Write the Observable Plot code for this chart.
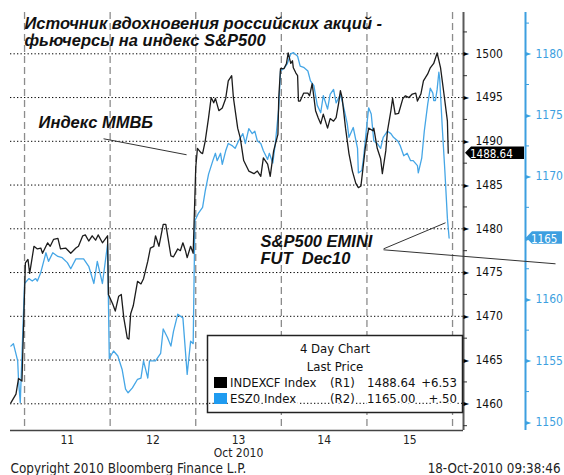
<!DOCTYPE html>
<html><head><meta charset="utf-8">
<script src="https://cdn.jsdelivr.net/npm/d3@7"></script>
<script src="https://cdn.jsdelivr.net/npm/@observablehq/plot@0.6"></script>
<style>
html,body{margin:0;padding:0;background:#fff;}
#chart{width:564px;height:475px;}
</style></head>
<body><div id="chart"></div>
<script>
// ---------- data ----------
const titleLines = ["Источник вдохновения российских акций -", "фьючерсы на индекс S&P500"];
const dayLabels = ["11", "12", "13", "14", "15"];
const dayCenters = [11.5, 12.5, 13.5, 14.5, 15.5];
const dayBounds = [11, 12, 13, 14, 15, 16];
const monthLabel = "Oct 2010";
const r1Ticks = [1460, 1465, 1470, 1475, 1480, 1485, 1490, 1495, 1500];
const r1Minor = [1457.5, 1462.5, 1467.5, 1472.5, 1477.5, 1482.5, 1487.5, 1492.5, 1497.5, 1502.5];
const r2Ticks = [1150, 1155, 1160, 1165, 1170, 1175, 1180];
const r2Minor = [1152.5, 1157.5, 1162.5, 1167.5, 1172.5, 1177.5, 1182.5];

// INDEXCF (MICEX index), right axis R1 — time in fractional October days
const micexTime = [10.84,10.90,10.93,10.97,11.01,11.04,11.06,11.11,11.15,11.19,11.21,11.27,11.30,11.34,11.39,11.42,11.48,11.54,11.60,11.63,11.68,11.71,11.75,11.79,11.83,11.86,11.91,11.97,
  11.98,12.03,12.06,12.10,12.13,12.16,12.20,12.22,12.24,12.27,12.32,12.36,12.39,12.44,12.47,12.51,12.53,12.57,12.62,12.65,12.71,12.74,12.79,12.82,12.85,12.88,12.90,12.94,12.97,
  13.00,13.02,13.06,13.08,13.11,13.15,13.18,13.21,13.23,13.27,13.31,13.35,13.38,13.42,13.44,13.49,13.52,13.56,13.62,13.68,13.72,13.76,13.79,13.84,13.87,13.91,13.96,13.97,13.99,
  14.03,14.06,14.08,14.11,14.13,14.14,14.17,14.19,14.20,14.22,14.26,14.31,14.33,14.36,14.40,14.43,14.46,14.49,14.54,14.57,14.61,14.64,14.67,14.69,14.71,14.75,14.79,14.83,14.87,14.90,14.93,14.95,14.98,
  15.02,15.07,15.08,15.12,15.16,15.18,15.22,15.24,15.28,15.30,15.33,15.37,15.42,15.45,15.49,15.53,15.57,15.59,15.63,15.66,15.71,15.74,15.78,15.82,15.86,15.90,15.94,15.95];
const micexPrice = [1460.1,1461.1,1462.9,1462.6,1476.1,1476.5,1474.9,1478.0,1477.7,1477.8,1477.2,1478.4,1478.0,1478.8,1478.9,1477.7,1477.8,1477.2,1477.8,1478.0,1479.2,1479.3,1478.6,1479.2,1478.7,1479.3,1478.4,1479.2,
  1472.5,1471.4,1470.6,1472.3,1472.5,1469.8,1467.5,1467.4,1470.3,1471.2,1474.0,1473.7,1474.3,1476.3,1477.8,1478.0,1479.2,1478.0,1480.5,1480.5,1476.9,1476.8,1477.7,1477.5,1478.4,1477.5,1476.7,1478.0,1477.2,
  1487.0,1489.2,1488.7,1488.6,1490.0,1492.7,1495.0,1494.4,1494.9,1493.5,1493.8,1494.9,1496.9,1497.5,1495.0,1491.5,1490.4,1487.8,1486.6,1486.3,1486.6,1486.0,1488.1,1487.4,1486.0,1488.9,1490.8,1495.0,1498.3,
  1498.3,1498.9,1500.1,1498.9,1499.2,1498.4,1497.8,1497.5,1494.6,1494.6,1495.5,1495.5,1495.2,1496.6,1493.5,1492.7,1492.0,1493.1,1491.5,1492.6,1492.3,1492.7,1494.4,1495.8,1495.0,1491.5,1488.6,1486.6,1485.2,1484.7,1484.9,1486.6,1489.2,
  1491.5,1491.2,1491.5,1489.2,1488.0,1486.3,1488.9,1491.2,1493.5,1494.9,1493.1,1493.2,1494.9,1495.2,1495.0,1495.4,1495.5,1494.6,1495.4,1496.9,1497.7,1498.4,1498.9,1500.1,1498.4,1495.4,1492.3,1488.64];

// ESZ0 (S&P500 E-mini Dec10), right axis R2
const esz0Time = [10.84,10.87,10.92,10.93,10.95,10.98,11.00,11.05,11.09,11.13,11.15,11.19,11.25,11.28,11.33,11.39,11.44,11.50,11.54,11.60,11.69,11.75,11.81,11.85,11.91,11.97,
  11.99,12.04,12.09,12.14,12.18,12.21,12.26,12.32,12.36,12.39,12.44,12.46,12.53,12.59,12.62,12.67,12.71,12.74,12.79,12.85,12.90,12.94,12.97,
  12.99,13.03,13.08,13.11,13.15,13.20,13.23,13.25,13.29,13.31,13.35,13.38,13.43,13.46,13.50,13.55,13.58,13.62,13.66,13.69,13.72,13.76,13.79,13.84,13.86,13.90,13.93,13.97,13.99,
  14.03,14.07,14.11,14.14,14.19,14.22,14.26,14.31,14.34,14.38,14.42,14.46,14.49,14.54,14.57,14.61,14.64,14.69,14.73,14.77,14.79,14.84,14.89,14.90,14.94,14.96,
  15.00,15.02,15.05,15.08,15.12,15.16,15.19,15.24,15.28,15.31,15.36,15.39,15.43,15.47,15.51,15.54,15.59,15.60,15.64,15.67,15.71,15.74,15.77,15.78,15.80,15.82,15.84,15.85,15.88,15.91,15.94,15.96];
const esz0Price = [1156.2,1156.4,1155.0,1153.4,1151.6,1157.4,1161.3,1161.7,1161.5,1161.7,1161.5,1162.2,1163.8,1163.1,1163.8,1163.5,1163.4,1163.0,1162.5,1163.3,1163.3,1162.7,1161.3,1163.1,1161.3,1164.5,
  1155.2,1155.8,1155.4,1154.3,1152.7,1152.4,1152.8,1153.5,1153.6,1155.0,1153.6,1155.0,1155.0,1155.6,1157.6,1156.9,1156.2,1157.4,1158.8,1158.5,1153.9,1156.6,1156.4,
  1166.4,1167.0,1167.5,1168.8,1170.2,1171.3,1171.9,1171.3,1171.9,1171.0,1172.1,1172.7,1172.5,1172.3,1172.9,1173.5,1172.7,1173.9,1173.5,1173.7,1172.9,1172.7,1172.1,1171.4,1171.9,1171.1,1172.7,1175.6,1178.6,
  1178.8,1179.2,1180.0,1180.1,1179.8,1179.0,1178.9,1178.6,1177.8,1177.4,1175.8,1175.2,1176.6,1175.5,1176.7,1177.1,1176.0,1176.7,1175.6,1174.3,1173.2,1174.0,1172.3,1170.3,1170.5,1171.5,
  1174.3,1175.6,1175.1,1172.9,1172.7,1172.3,1173.2,1173.7,1173.5,1173.2,1172.9,1172.5,1171.7,1171.9,1171.3,1171.3,1170.9,1170.3,1171.5,1173.7,1175.9,1177.2,1176.8,1176.2,1176.2,1177.1,1178.5,1178.0,1174.0,1170.5,1166.6,1165.0];

// legend
const legendHeader = ["4 Day Chart", "Last Price"];
const legendNames = ["INDEXCF Index", "ESZ0 Index"];
const legendAxes = ["(R1)", "(R2)"];
const legendLast = ["1488.64", "1165.00"];
const legendChange = ["+6.53", "+.50"];
const lastValues = [1488.64, 1165];
const lastLabels = ["1488.64", "1165"];

// annotations (anchored in data units: day, R1 value)
const annotTexts = ["Индекс ММВБ", "S&P500 EMINI", "FUT\u00a0 Dec10"];
const annotT = [11.164, 13.757, 13.757];
const annotV = [1491.5, 1477.9, 1476.0];
const linkT1 = [11.923, 15.194, 15.194];
const linkV1 = [1490.29, 1477.71, 1477.6];
const linkT2 = [12.893, 15.918, 17.203];
const linkV2 = [1488.46, 1480.69, 1476.0];

const copyright = "Copyright 2010 Bloomberg Finance L.P.";
const stamp = "18-Oct-2010 09:38:46";

// ---------- layout ----------
const W = 564, H = 475, mL = 10, mR = 101, mT = 12, mB = 45;
const xDomain = [10.836, 16.128];
const yDomain = [1456.95, 1504.72];
const toR1 = d3.scaleLinear([1150, 1180], [1457.89, 1500]);
const pxToDays = (xDomain[1] - xDomain[0]) / (W - mL - mR);
const blueOff = 62;
const BLUE = "#45a6e6", BLUEAX = "#3d9fe0";
const font = "'DejaVu Sans Condensed', 'DejaVu Sans', sans-serif";
const bold = "'Liberation Sans', Arial, sans-serif";
const boldSize = 16.5;

const micex = micexTime.map((t, i) => ({t, v: micexPrice[i]}));
const esz0 = esz0Time.map((t, i) => ({t, v: esz0Price[i]}));
const annots = annotTexts.map((s, i) => ({s, t: annotT[i], v: annotV[i]}));
const links = linkT1.map((t1, i) => ({t1, v1: linkV1[i], t2: linkT2[i], v2: linkV2[i]}));
// the R2 tick label at the last price is hidden under its price tag, as in the reference
const r2Labels = r2Ticks.filter(d => d !== lastValues[1]);

const plot = Plot.plot({
  width: W, height: H,
  marginLeft: mL, marginRight: mR, marginTop: mT, marginBottom: mB,
  x: {domain: xDomain, axis: null},
  y: {domain: yDomain, axis: null},
  style: {fontFamily: font, background: "#fff", overflow: "visible"},
  marks: [
    Plot.ruleY(r1Ticks, {stroke: "#000", strokeDasharray: "1.3,2.2", strokeWidth: 1}),
    Plot.ruleX(dayBounds, {stroke: "#8c8c8c", strokeDasharray: "7,4", strokeWidth: 1.3}),
    Plot.ruleY([yDomain[0]], {stroke: "#444", strokeWidth: 1.3}),
    Plot.line(esz0, {x: "t", y: d => toR1(d.v), stroke: BLUE, strokeWidth: 1.3}),
    Plot.line(micex, {x: "t", y: "v", stroke: "#1c1c1c", strokeWidth: 1.3}),
    // R1 axis
    Plot.ruleX([xDomain[1]], {stroke: "#5a5a5a", strokeWidth: 2}),
    Plot.ruleY(r1Minor, {x1: xDomain[1], x2: xDomain[1] + 4 * pxToDays, stroke: "#333", strokeWidth: 1}),
    Plot.text(r1Ticks, {y: d => d, frameAnchor: "right", text: () => "►", textAnchor: "start", fontSize: 8, dx: 0, fill: "#000"}),
    Plot.text(r1Ticks, {y: d => d, frameAnchor: "right", text: d => String(d), textAnchor: "start", dx: 12, fontSize: 12, fill: "#111"}),
    // R2 axis
    Plot.ruleX([xDomain[1]], {dx: blueOff, stroke: BLUEAX, strokeWidth: 2}),
    Plot.ruleY(r2Minor.map(toR1), {x1: xDomain[1], x2: xDomain[1] + 4 * pxToDays, dx: blueOff, stroke: BLUEAX, strokeWidth: 1}),
    Plot.text(r2Ticks, {y: d => toR1(d), frameAnchor: "right", text: () => "►", textAnchor: "start", fontSize: 8, dx: blueOff, fill: BLUEAX}),
    Plot.text(r2Labels, {y: d => toR1(d), frameAnchor: "right", text: d => String(d), textAnchor: "start", dx: blueOff + 10, fontSize: 12, fill: BLUEAX}),
    // x labels
    Plot.text(dayLabels, {x: (d, i) => dayCenters[i], frameAnchor: "bottom", text: d => d, lineAnchor: "bottom", dy: 13, fontSize: 12, fill: "#222"}),
    Plot.text([monthLabel], {x: () => dayCenters[2], frameAnchor: "bottom", text: d => d, lineAnchor: "bottom", dy: 26, fontSize: 12, fill: "#222"}),
    // annotations
    Plot.link(links, {x1: "t1", y1: "v1", x2: "t2", y2: "v2", stroke: "#333", strokeWidth: 1}),
    Plot.text(annots, {x: "t", y: "v", text: "s", textAnchor: "start", lineAnchor: "bottom", fontFamily: bold, fontWeight: "bold", fontStyle: "italic", fontSize: boldSize, fill: "#111"}),
    // title
    Plot.text([titleLines[0]], {frameAnchor: "top-left", text: d => d, textAnchor: "start", lineAnchor: "bottom", dx: 14, dy: 16, fontFamily: bold, fontWeight: "bold", fontStyle: "italic", fontSize: boldSize, fill: "#111"}),
    Plot.text([titleLines[1]], {frameAnchor: "top-left", text: d => d, textAnchor: "start", lineAnchor: "bottom", dx: 14, dy: 33, fontFamily: bold, fontWeight: "bold", fontStyle: "italic", fontSize: boldSize, fill: "#111"}),
    // footer
    Plot.text([copyright], {frameAnchor: "bottom-left", text: d => d, textAnchor: "start", lineAnchor: "bottom", dy: 42, fontSize: 13.4, fill: "#222"}),
    Plot.text([stamp], {frameAnchor: "bottom-right", text: d => d, textAnchor: "end", lineAnchor: "bottom", dx: 97, dy: 42, fontSize: 13.3, fill: "#222"})
  ]
});
document.getElementById("chart").appendChild(plot);

// ---------- price tags & legend (positions from Plot's scales) ----------
const ys = plot.scale("y");
const yPix = v => ys.apply ? ys.apply(v) : d3.scaleLinear(yDomain, [H - mB, mT])(v);
const svg = d3.select(plot);
const xr = W - mR;
function tag(x0, yc, w, fill, label) {
  const h = 6.2;
  svg.append("path")
    .attr("d", `M${x0},${yc} L${x0 + 6},${yc - h} L${x0 + w},${yc - h} L${x0 + w},${yc + h} L${x0 + 6},${yc + h} Z`)
    .attr("fill", fill);
  svg.append("text").attr("x", x0 + 5).attr("y", yc + 5).attr("text-anchor", "start")
    .attr("font-family", font).attr("font-size", 11.5).attr("fill", "#fff").text(label);
}
tag(xr + 2, yPix(lastValues[0]), 59, "#000", lastLabels[0]);
tag(xr + blueOff + 1, yPix(toR1(lastValues[1])), 36, BLUEAX, lastLabels[1]);

const lg = svg.append("g").attr("font-family", font).attr("font-size", 13).attr("fill", "#111").attr("text-anchor", "start");
lg.append("rect").attr("x", 207.5).attr("y", 335.5).attr("width", xr - 208).attr("height", 77)
  .attr("fill", "#fff").attr("stroke", "#222").attr("stroke-width", 1.5);
lg.append("line").attr("x1", 209).attr("x2", xr - 1).attr("y1", yPix(r1Ticks[0])).attr("y2", yPix(r1Ticks[0]))
  .attr("stroke", "#000").attr("stroke-dasharray", "1.3,2.2");
legendHeader.forEach((s, i) => lg.append("text").attr("x", 335).attr("y", 353 + 18 * i).attr("text-anchor", "middle").text(s));
[ "#000", "#1f9bf0" ].forEach((c, i) => {
  const yb = 387 + 16 * i;
  lg.append("rect").attr("x", 214).attr("y", yb - 10).attr("width", 13).attr("height", 11).attr("fill", c);
  const halo = sel => sel.attr("stroke", "#fff").attr("stroke-width", 3).attr("paint-order", "stroke");
  halo(lg.append("text").attr("x", 230).attr("y", yb).text(legendNames[i]));
  halo(lg.append("text").attr("x", 330).attr("y", yb).text(legendAxes[i]));
  halo(lg.append("text").attr("x", 367).attr("y", yb).text(legendLast[i]));
  halo(lg.append("text").attr("x", 457).attr("y", yb).attr("text-anchor", "end").text(legendChange[i]));
});
</script>
</body></html>
